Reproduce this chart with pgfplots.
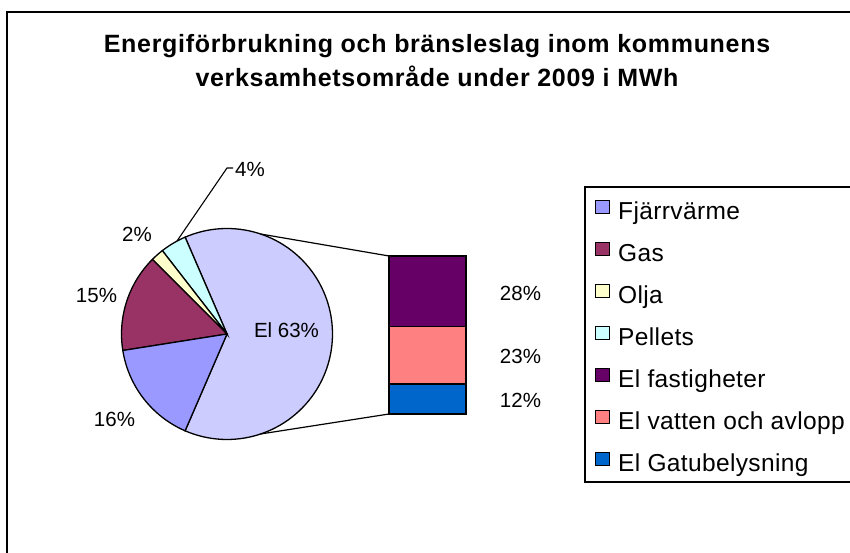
\documentclass[border=0pt]{standalone}
\usepackage{pgfplots}
\pgfplotsset{compat=1.18}
\usepackage{fontspec}
\setmainfont{Liberation Sans}
\newfontfamily\titlefont{Liberation Sans}[LetterSpace=2.8]
\newfontfamily\legfont{Liberation Sans}[LetterSpace=1.5]
\definecolor{elc}{HTML}{CCCCFF}
\definecolor{fjc}{HTML}{9999FF}
\definecolor{gasc}{HTML}{993366}
\definecolor{oljac}{HTML}{FFFFCC}
\definecolor{pelc}{HTML}{CCFFFF}
\definecolor{fastc}{HTML}{660066}
\definecolor{vatc}{HTML}{FF8080}
\definecolor{gatc}{HTML}{0066CC}
% pie values (percent of total)
\def\vEl{63}\def\vPel{4}\def\vOlja{2}\def\vGas{15}\def\vFj{16}
% split of El (percent of total)
\def\vFast{28}\def\vVat{23}\def\vGat{12}
\pgfmathsetmacro\aA{\vEl*1.8}
\pgfmathsetmacro\aB{\aA+\vPel*3.6}
\pgfmathsetmacro\aC{\aB+\vOlja*3.6}
\pgfmathsetmacro\aD{\aC+\vGas*3.6}
\pgfmathsetmacro\aE{\aD+\vFj*3.6}
\pgfmathsetmacro\aAm{-\aA}
\def\cx{227}\def\cy{219}\def\rr{105.5}
\begin{document}
\begin{tikzpicture}
\begin{axis}[
  at={(0pt,0pt)}, anchor=south west,
  width=850pt, height=553pt, scale only axis,
  xmin=0, xmax=850, ymin=0, ymax=553,
  hide axis, clip=true,
  legend cell align=left,
  legend image code/.code={\draw[#1, draw=black, line width=1pt] (0.5pt,-0.5pt) rectangle (14.5pt,12.5pt); \path (23pt,0pt);},
  legend style={at={(595/850,352.7/553)}, anchor=north west, draw=none, fill=none,
    inner sep=0pt, outer sep=0pt, column sep=0pt, row sep=17.5pt,
    font=\legfont\fontsize{24.5}{28}\selectfont,
    nodes={inner sep=0pt, outer sep=0pt, text height=18pt, text depth=5pt}},
]
% outer frame
\addplot[black, line width=1.3pt, forget plot] coordinates {(7,-10) (7,541) (870,541)};
% legend frame
\addplot[black, line width=1.3pt, forget plot] coordinates {(870,366) (585,366) (585,71) (870,71)};
% pie slices
\addplot[fill=elc, draw=black, line width=1.3pt, domain=\aAm:\aA, samples=90, variable=\t, forget plot]
  ({\cx+\rr*cos(\t)}, {\cy+\rr*sin(\t)}) -- (axis cs:\cx,\cy) -- cycle;
\addplot[fill=pelc, draw=black, line width=1.3pt, domain=\aA:\aB, samples=10, variable=\t, forget plot]
  ({\cx+\rr*cos(\t)}, {\cy+\rr*sin(\t)}) -- (axis cs:\cx,\cy) -- cycle;
\addplot[fill=oljac, draw=black, line width=1.3pt, domain=\aB:\aC, samples=6, variable=\t, forget plot]
  ({\cx+\rr*cos(\t)}, {\cy+\rr*sin(\t)}) -- (axis cs:\cx,\cy) -- cycle;
\addplot[fill=gasc, draw=black, line width=1.3pt, domain=\aC:\aD, samples=25, variable=\t, forget plot]
  ({\cx+\rr*cos(\t)}, {\cy+\rr*sin(\t)}) -- (axis cs:\cx,\cy) -- cycle;
\addplot[fill=fjc, draw=black, line width=1.3pt, domain=\aD:\aE, samples=25, variable=\t, forget plot]
  ({\cx+\rr*cos(\t)}, {\cy+\rr*sin(\t)}) -- (axis cs:\cx,\cy) -- cycle;
% connector lines
\addplot[black, line width=1.2pt, forget plot] coordinates {(260.5,319) (389,297)};
\addplot[black, line width=1.2pt, forget plot] coordinates {(260.5,119) (389,139)};
% leader line for 4%
\addplot[black, line width=1.1pt, forget plot] coordinates {(177,312) (227,385) (233,385)};
% legend
\addlegendimage{fill=fjc}\addlegendentry{Fjärrvärme}
\addlegendimage{fill=gasc}\addlegendentry{Gas}
\addlegendimage{fill=oljac}\addlegendentry{Olja}
\addlegendimage{fill=pelc}\addlegendentry{Pellets}
\addlegendimage{fill=fastc}\addlegendentry{El fastigheter}
\addlegendimage{fill=vatc}\addlegendentry{El vatten och avlopp}
\addlegendimage{fill=gatc}\addlegendentry{El Gatubelysning}
% title
\node[anchor=base, inner sep=0pt] at (axis cs:437,500) {\titlefont\bfseries\fontsize{25}{30}\selectfont Energiförbrukning och bränsleslag inom kommunens};
\node[anchor=base, inner sep=0pt] at (axis cs:437,466) {\titlefont\bfseries\fontsize{25}{30}\selectfont verksamhetsområde under 2009 i MWh};
% data labels
\begin{scope}[every node/.style={inner sep=0pt, font=\fontsize{20.5}{24}\selectfont}]
\node[anchor=base] at (axis cs:286.5,215.3) {El 63\%};
\node[anchor=base] at (axis cs:114.5,126) {16\%};
\node[anchor=base] at (axis cs:96.5,250) {15\%};
\node[anchor=base] at (axis cs:137,311) {2\%};
\node[anchor=base west] at (axis cs:235,376.3) {4\%};
\node[anchor=base] at (axis cs:520.5,252.3) {28\%};
\node[anchor=base] at (axis cs:520.5,189) {23\%};
\node[anchor=base] at (axis cs:520.5,145.7) {12\%};
\end{scope}
\end{axis}
\begin{axis}[
  at={(389pt,139pt)}, anchor=south west,
  width=77pt, height=158pt, scale only axis,
  xmin=-0.5, xmax=0.5, ymin=0, ymax=63,
  hide axis, clip=false,
  ybar stacked, bar width=77pt,
]
\addplot[fill=gatc, draw=black, line width=1.3pt] coordinates {(0,\vGat)};
\addplot[fill=vatc, draw=black, line width=1.3pt] coordinates {(0,\vVat)};
\addplot[fill=fastc, draw=black, line width=1.3pt] coordinates {(0,\vFast)};
\end{axis}
\pgfresetboundingbox
\useasboundingbox (0pt,0pt) rectangle (850pt,553pt);
\end{tikzpicture}
\end{document}
